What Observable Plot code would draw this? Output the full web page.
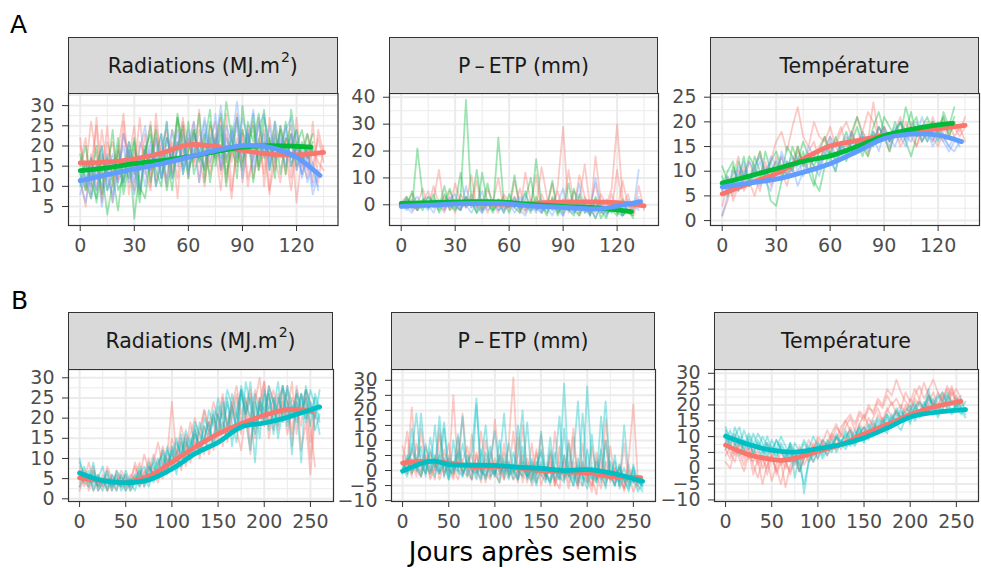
<!DOCTYPE html>
<html><head><meta charset="utf-8">
<script src="https://cdn.jsdelivr.net/npm/d3@7"></script>
<script src="https://cdn.jsdelivr.net/npm/@observablehq/plot@0.6"></script>
<style>
body{margin:0;background:#fff;}
#root{position:relative;width:981px;height:568px;overflow:hidden;font-family:"DejaVu Sans",sans-serif;background:#fff;}
.strip{position:absolute;background:#D9D9D9;border:1.2px solid #333333;box-sizing:border-box;display:flex;align-items:center;justify-content:center;font-size:20.5px;color:#1A1A1A;white-space:nowrap;}
.strip .sup{font-size:14px;position:relative;top:-9px;margin-left:1px;}
.panel{position:absolute;}
#over{position:absolute;left:0;top:0;pointer-events:none;}
</style></head><body><div id="root"></div>
<script>
// ---------- colours of the groups ----------
const COL = {red:"#F8766D", green:"#00BA38", blue:"#619CFF", cyan:"#00BFC4"};

// ---------- A : daily series sampled every 3 days (x = index*3) ----------
// Radiations A
const radA_red1 = [16,22,8,27,12,25,10,19,28,14,9,21,17,26,11,20,24,13,27,18,22,15,29,12,25,19,9,23,16,28,11,21,26,14,19,8,24,17,22,12,27,15,20,11,24,18];
const radA_red2 = [12,5,18,9,24,14,6,20,11,17,25,8,19,13,22,16,10,24,19,27,12,23,17,10,21,26,14,18,7,22,15,25,12,19,24,9,16,21,13,23,6,18,14,20,16,14];
const radA_red3 = [20,14,26,17,7,21,15,11,23,18,13,27,14,9,25,17,22,19,12,26,21,16,24,18,13,20,27,11,19,15,23,10,18,22,13,27,17,11,21,25,14,19,23,15,22,16];
const radA_red4 = [22,9,15,25,6,17,21,12,26,8,19,14,23,10,28,16,12,21,7,24,18,26,11,20,15,23,13,28,9,19,24,12,17,27,10,22,14,25,18,9,21,16,12,26,11,20];
const radA_green1 = [13,9,17,6,14,3,11,19,8,15,22,10,7,17,24,12,19,9,21,15,26,13,18,23,11,20,28,16,22,12,30,19,25,14,27,21,17,24,13,29,20,16,23,18];
const radA_green2 = [18,11,7,15,20,9,13,4,16,12,21,8,18,25,14,10,22,17,28,13,19,24,16,21,29,15,23,10,25,19,14,26,21,28,17,22,12,25,19,23,15,21,17,19];
const radA_green3 = [10,16,12,20,8,17,13,22,10,19,2,14,20,11,18,23,9,16,27,21,12,24,18,14,26,20,17,31,22,16,24,19,28,15,21,18,26,13,22,20,24,16,19,23];
const radA_green4 = [15,20,11,7,18,13,24,9,12,21,15,6,19,23,10,16,26,12,20,25,14,18,28,11,22,17,25,13,19,27,16,23,11,21,29,14,22,18,26,15,20,24,17,21];
const radA_blue1 = [11,6,14,9,17,12,8,15,20,11,16,9,19,14,22,12,17,24,15,20,13,23,18,26,16,21,30,19,24,17,27,22,19,25,28,15,21,18,24,27,14,19,11,16,9];
const radA_blue2 = [8,13,10,16,5,14,18,11,15,21,13,17,10,19,15,23,11,18,21,14,24,17,20,27,19,22,15,25,21,31,18,23,16,26,20,17,23,19,25,15,20,13,17,8,13];
const radA_blue3 = [14,10,17,12,20,9,16,13,23,17,11,19,25,14,18,12,22,16,24,13,21,26,18,15,23,20,25,17,22,27,19,24,14,21,18,25,16,22,20,17,24,12,18,14,10];
const radA_blue4 = [12,16,7,13,10,18,6,14,11,19,8,16,13,21,10,17,26,12,19,23,15,20,11,24,18,28,14,22,19,25,12,21,29,17,23,14,26,20,15,23,18,13,20,10,14];
// P - ETP A
const petA_red1 = [0,-1,2,-2,1,5,-1,0,3,-2,8,1,-1,4,0,-2,6,1,-1,3,-2,9,0,-3,2,-1,14,3,-2,7,29,-3,5,2,15,-1,-3,4,0,6,30,3,-3,1,-1,0];
const petA_red2 = [1,3,-2,0,6,-1,2,13,-2,1,-3,4,0,11,-1,2,-3,1,10,-2,0,3,-3,12,1,-2,4,-1,8,-3,2,0,-2,11,3,-4,18,1,-2,4,-3,9,0,-4,2,-1];
const petA_red3 = [-1,0,4,-2,2,-1,7,0,-3,5,1,-2,3,-1,9,-2,2,0,-3,4,1,-1,6,-2,0,11,-3,2,-1,5,-2,13,0,-4,3,-1,8,-3,2,-2,13,-1,4,-3,7,-2];
const petA_green1 = [0,2,-1,21,3,-1,1,-2,4,0,-2,3,39,1,-3,12,0,-2,25,1,-3,2,-1,5,-2,17,0,-3,2,-4,1,-2,6,-3,0,-4,3,-2,-5,1,-3,-4,-2,-5];
const petA_green2 = [1,-1,5,0,-2,3,1,-1,7,-2,0,12,-1,2,-3,0,8,-2,1,-3,4,-1,-3,2,10,-2,0,-4,3,-1,-3,8,-2,-4,0,-3,2,-5,-1,-3,1,-4,-2,-3];
const petA_green3 = [-1,3,0,-2,2,-1,4,-3,1,6,-1,-2,3,0,13,-2,1,-3,2,0,-1,11,-2,1,-3,3,-2,-1,9,-3,0,-2,-4,4,-3,-1,-5,0,-3,-2,-4,2,-3,-4];
const petA_blue1 = [-1,2,0,-2,1,3,-1,0,-2,2,4,-1,0,-3,1,5,-2,0,2,-3,1,-1,3,-2,0,-3,2,-1,-4,1,6,-2,-3,0,-1,-4,2,-3,-1,-2,0,-4,1,-2,13];
const petA_blue2 = [1,-1,-3,1,0,-2,2,1,-1,3,0,-2,7,-1,1,-3,0,2,-2,-1,1,-3,0,4,-2,-1,-3,1,-2,0,-4,2,-1,8,-3,-2,10,-1,-4,0,-2,-3,2,-1,3];
const petA_blue3 = [0,-2,1,3,-1,0,-3,2,0,-1,1,-2,3,0,-1,-3,2,1,-2,0,-1,3,-2,-4,1,0,-3,-1,2,-2,-4,0,-3,1,-2,-1,-5,0,-3,-2,1,-4,-1,0,-2];
// Température A
const tmpA_red1 = [1,4,9,13,6,8,11,14,9,12,16,18,14,19,23,17,15,20,17,16,19,15,18,20,17,15,18,16,24,17,19,16,18,15,17,20,18,16,19,17,15,18,20,17,19,16];
const tmpA_red2 = [6,9,4,7,11,8,5,9,12,7,10,13,9,11,14,12,10,13,15,17,14,16,19,15,17,21,18,22,20,17,19,16,18,21,17,19,15,18,20,16,19,21,17,20,18,21];
const tmpA_red3 = [3,7,5,10,8,12,9,6,11,8,13,10,7,12,15,11,14,16,12,15,17,13,16,14,18,15,17,13,16,19,17,14,18,16,20,17,15,19,17,21,18,16,20,19,17,19];
const tmpA_green1 = [9,5,11,8,13,7,10,14,9,4,3,8,12,10,15,11,13,8,6,11,14,12,16,13,18,21,17,15,19,22,18,16,20,17,23,19,21,16,18,20,17,22,19,23];
const tmpA_green2 = [11,8,6,12,9,7,13,10,8,12,14,11,9,15,12,16,13,11,14,17,13,10,15,18,14,16,13,17,15,19,17,14,18,20,16,13,17,19,21,18,16,20,18,21];
const tmpA_green3 = [7,10,12,6,9,13,11,8,14,10,12,9,15,13,11,14,10,7,12,15,13,17,14,12,16,19,15,13,18,16,21,19,17,20,18,22,17,19,16,20,18,21,17,20];
const tmpA_blue1 = [1,5,8,6,10,7,9,12,8,6,10,13,9,11,7,10,13,11,9,14,12,10,15,13,16,14,17,15,18,16,19,17,15,18,16,19,17,21,18,16,19,17,15,17,15];
const tmpA_blue2 = [6,9,7,11,8,12,10,7,9,13,11,8,12,10,13,9,12,14,11,13,16,12,15,17,14,16,18,15,17,14,18,16,19,17,15,18,20,16,18,15,17,16,14,16,16];
const tmpA_blue3 = [8,6,10,9,12,8,11,13,10,12,9,14,11,13,10,12,15,13,11,14,17,15,13,16,18,15,17,14,16,19,17,15,18,20,17,16,19,18,16,18,20,17,15,14,16];

// ---------- B : daily series sampled every 5 days (x = index*5) ----------
const radB_red1 = [8,3,6,2,5,3,7,4,2,6,3,5,8,4,6,10,5,8,12,7,11,9,14,8,13,17,10,15,19,12,18,22,14,20,25,16,23,27,18,24,29,15,22,26,19,28,13,24,21,27,18,8];
const radB_red2 = [4,7,2,5,3,6,2,4,6,3,5,2,4,7,3,8,6,4,9,6,13,8,11,16,9,14,12,18,11,16,21,13,19,24,17,12,21,26,15,23,19,28,24,17,25,21,29,16,26,23,10,22];
const radB_red3 = [2,5,9,4,6,3,5,2,7,4,6,3,9,5,11,7,9,14,8,11,24,10,15,12,19,13,17,22,16,20,14,25,18,23,20,27,22,11,24,30,20,26,17,23,28,19,25,22,18,27,24,20];
const radB_red4 = [6,4,3,7,2,4,8,5,3,4,2,6,5,3,7,4,8,6,5,10,8,12,7,13,10,16,14,11,17,21,16,19,15,22,26,19,24,14,21,25,18,23,27,20,24,16,22,26,12,19,6,21];
const radB_red5 = [3,6,4,8,3,5,2,6,4,7,5,3,6,9,5,7,11,8,13,9,15,11,18,13,16,20,15,22,18,24,20,26,17,23,28,21,25,19,27,22,29,18,25,21,27,24,16,28,22,25,14,23];
const radB_cyan1 = [9,6,3,7,4,2,5,3,6,2,4,3,5,7,4,8,6,9,11,7,13,10,8,14,12,16,11,15,19,13,21,17,24,19,14,26,21,29,18,24,22,27,16,25,21,28,23,19,26,20,27,23,16];
const radB_cyan2 = [5,8,4,6,3,5,2,6,4,3,7,4,2,6,5,3,7,10,6,12,9,14,11,15,10,17,13,18,15,22,20,16,25,13,22,27,19,12,24,20,26,17,22,29,19,24,11,27,21,25,18,26,22];
const radB_cyan3 = [7,4,6,2,5,8,3,5,2,6,3,5,4,8,3,6,9,5,8,13,7,11,16,9,13,18,12,20,17,14,23,19,15,26,21,17,29,23,9,25,20,28,24,15,22,27,21,24,9,28,23,20,27];
const radB_cyan4 = [3,6,5,9,2,4,6,3,7,5,2,4,6,3,5,9,4,7,10,8,12,6,14,10,15,11,19,14,13,21,16,24,18,22,17,27,21,25,16,23,19,26,20,24,28,18,23,21,26,19,24,17,21];
const radB_cyan5 = [10,5,7,3,6,4,7,2,5,3,6,2,4,6,8,5,10,7,12,9,11,15,10,17,13,19,16,14,22,18,25,20,27,23,18,28,24,20,26,15,27,22,25,18,28,24,20,26,23,27,21,25,19];
const petB_red1 = [8,2,21,0,-2,5,1,-3,12,3,-1,25,0,19,2,-3,6,-1,4,-2,17,1,-3,9,31,-2,5,-4,3,-1,12,-3,2,-5,8,-2,0,14,-4,3,-1,-5,6,-2,10,-4,1,-3,-6,4,22,-3];
const petB_red2 = [2,13,-1,4,0,9,-2,3,-1,7,1,-3,11,-1,2,5,-2,13,0,-3,4,-1,9,-2,1,-4,15,0,-3,6,-2,1,-5,13,-1,3,-4,0,-6,9,-2,-5,1,-3,17,-1,-4,2,-7,0,-3,-5];
const petB_red3 = [0,4,-2,9,3,-1,6,0,14,-2,5,1,-3,3,8,-1,2,-4,10,1,-2,5,-3,2,-1,11,-4,2,-2,7,-5,0,3,-3,-6,5,-2,11,-4,1,-3,-7,4,-2,-5,8,-3,-1,-6,2,-4,-2];
const petB_red4 = [3,-1,7,2,-2,4,-3,1,5,-1,2,-2,7,3,-1,-3,5,0,-2,3,-1,-4,6,1,-3,0,-2,4,-5,-1,2,-3,5,-4,-2,1,-6,3,-3,-5,0,-2,-8,4,-3,-1,-5,1,-4,-2,-7,-3];
const petB_red5 = [5,0,3,-2,14,1,-1,4,-3,2,9,-1,3,0,-2,12,-1,2,-4,6,0,-2,3,-1,13,-3,1,-2,9,-4,0,-2,6,-5,1,-3,10,-2,-5,2,-4,8,-1,-6,3,-3,1,-5,9,-4,-1,-6];
const petB_cyan1 = [-1,3,6,19,2,-1,7,1,18,-2,4,0,12,-1,3,6,24,-2,1,8,-1,3,19,-2,0,5,20,-3,2,-1,7,-2,11,-3,0,29,-2,4,23,-3,28,1,-4,6,23,-2,3,-5,15,-1,-4,-2,-6];
const petB_cyan2 = [1,-2,4,0,19,2,-1,5,0,14,-2,3,-1,9,1,-3,22,0,-2,4,13,-1,2,-3,6,0,-2,16,-3,3,-1,-4,7,0,-3,14,-2,1,-5,19,-1,-3,3,-4,10,-2,-5,1,-3,-6,2,-4,-5];
const petB_cyan3 = [0,5,-1,3,8,-2,11,2,-1,4,-3,1,6,-2,3,0,-1,7,-3,2,-1,5,-2,9,0,-3,3,-1,-4,2,6,-2,-4,1,-3,5,-1,-5,2,-2,-4,12,-3,0,-6,3,-2,-4,1,-5,-3,-7,-4];
const petB_cyan4 = [2,-1,9,1,-2,3,0,15,-1,2,-3,10,0,-2,5,1,-3,3,15,-2,0,-4,4,-1,2,-3,8,-2,0,-5,3,-1,-4,2,18,-3,0,-5,4,-2,-6,1,-3,7,-4,-1,-5,2,-3,-7,0,-4,-5];
const petB_cyan5 = [3,0,14,2,-1,8,3,-2,5,16,0,-1,4,18,-2,2,0,-3,6,1,-2,10,-1,3,-3,15,1,-2,4,-4,13,-1,-3,6,-2,-4,9,-3,1,-5,7,-2,-4,18,-1,-3,5,-6,-2,-4,1,-5,-7];
const tmpB_red1 = [4,7,10,6,3,8,5,1,4,-2,3,0,-5,2,-1,4,1,6,3,8,5,9,7,11,14,10,13,16,12,17,15,19,18,22,20,25,23,28,24,21,19,23,26,22,25,28,24,21,26,23,25,22];
const tmpB_red2 = [9,5,2,8,4,7,1,-3,3,0,5,-2,2,-6,1,4,-1,3,6,2,5,8,4,7,10,6,9,12,8,11,13,10,14,12,16,13,15,18,16,20,17,19,22,18,21,24,20,23,21,25,22,20];
const tmpB_red3 = [2,0,6,3,-1,4,2,6,0,3,-4,1,5,2,-2,3,6,1,4,7,3,8,6,10,7,11,9,13,10,14,12,16,13,17,15,19,16,18,20,17,22,19,21,18,23,20,17,22,19,24,21,23];
const tmpB_red4 = [10,7,4,9,6,3,7,2,5,8,3,6,1,4,7,3,-1,5,2,6,9,5,8,11,9,13,15,12,10,14,17,13,16,19,15,18,21,17,16,19,18,22,20,17,23,21,19,24,22,26,20,21];
const tmpB_red5 = [6,3,8,5,1,6,-2,3,-5,1,4,-1,3,0,5,2,7,4,9,6,10,8,12,9,13,11,15,17,14,18,16,20,17,21,19,23,20,22,19,24,21,25,22,27,23,20,24,22,25,21,23,20];
const tmpB_cyan1 = [13,9,11,7,12,8,5,9,6,3,7,4,8,5,2,6,1,-5,2,4,7,3,6,9,5,8,11,7,10,13,9,12,15,11,14,17,13,16,19,15,18,21,17,20,23,19,22,24,20,18,21,19,17];
const tmpB_cyan2 = [8,12,7,10,6,9,4,8,5,10,6,3,7,4,8,1,5,-8,2,6,3,7,4,8,6,9,7,11,8,12,10,9,13,11,15,13,17,14,12,16,19,15,18,17,20,22,18,21,19,17,20,18,16];
const tmpB_cyan3 = [11,7,13,9,5,10,7,11,8,4,9,6,10,7,3,8,5,9,6,10,7,4,8,6,10,8,12,9,7,11,13,10,12,15,13,11,16,14,18,16,15,19,17,21,18,20,16,19,22,18,20,17,19];
const tmpB_cyan4 = [6,10,8,4,9,6,11,7,3,8,5,9,6,2,7,-3,4,8,5,2,6,9,7,5,10,8,6,9,12,10,8,13,11,14,12,16,13,18,15,17,14,20,16,19,25,17,20,18,23,21,19,22,18];
const tmpB_cyan5 = [12,8,10,13,7,11,8,6,10,7,5,9,6,3,8,5,-1,3,7,4,8,5,9,7,11,8,10,12,9,13,11,14,12,16,14,17,15,19,16,18,20,17,21,19,22,20,23,21,24,20,22,19,21];

// ---------- smooth (loess) curves ----------
const smRadA_red_x = [0,15,30,45,60,75,90,105,120,135];
const smRadA_red_y = [15.8,16.0,16.8,18.2,20.3,19.9,18.9,18.0,17.8,18.4];
const smRadA_green_x = [0,15,30,45,60,75,90,105,120,128];
const smRadA_green_y = [13.9,14.6,15.6,16.4,17.3,18.6,19.7,20.1,19.9,19.7];
const smRadA_blue_x = [0,15,30,45,60,75,90,100,110,120,133];
const smRadA_blue_y = [11.4,12.9,14.3,15.6,17.2,18.9,20.1,20.0,19.1,17.2,12.7];
const smPetA_red_x = [0,30,60,90,120,135];
const smPetA_red_y = [0.0,0.6,0.3,1.0,0.8,-0.4];
const smPetA_green_x = [0,20,40,55,70,90,110,128];
const smPetA_green_y = [0.5,0.9,1.2,1.1,0.2,-0.6,-1.2,-2.5];
const smPetA_blue_x = [0,20,40,55,70,90,110,120,133];
const smPetA_blue_y = [-0.6,0.0,0.5,0.5,-0.3,-1.0,-1.5,-0.5,1.2];
const smTmpA_red_x = [0,15,30,45,60,75,90,105,120,135];
const smTmpA_red_y = [5.4,7.5,9.5,12.5,15.1,16.2,17.2,18.0,18.6,19.3];
const smTmpA_green_x = [0,15,30,45,60,75,90,105,120,128];
const smTmpA_green_y = [7.6,9.0,10.5,12.0,13.1,15.0,17.2,18.5,19.4,19.7];
const smTmpA_blue_x = [0,15,30,45,60,75,90,105,120,133];
const smTmpA_blue_y = [6.8,7.6,8.4,9.8,11.5,14.0,16.6,17.5,17.3,16.0];
const smRadB_red_x = [0,25,50,75,100,125,150,175,200,225,252];
const smRadB_red_y = [5.2,4.5,4.1,5.6,9.1,12.8,16.1,18.6,20.7,22.1,21.7];
const smRadB_cyan_x = [0,25,50,75,100,125,150,175,200,225,260];
const smRadB_cyan_y = [6.4,4.5,4.0,4.7,7.4,11.2,14.0,17.8,18.8,20.2,22.8];
const smPetB_red_x = [0,25,50,75,100,125,150,175,200,225,258];
const smPetB_red_y = [2.5,3.1,2.5,1.4,1.4,0.9,0.0,-0.4,-0.8,-1.9,-2.4];
const smPetB_cyan_x = [0,25,35,50,75,100,125,150,175,200,225,250,260];
const smPetB_cyan_y = [-0.2,2.8,3.1,2.0,1.8,1.7,1.1,0.7,0.0,0.3,-0.8,-2.7,-3.6];
const smTmpB_red_x = [0,25,50,60,75,100,125,150,175,200,225,255];
const smTmpB_red_y = [7.3,4.3,2.8,2.5,3.1,5.4,7.5,10.8,13.8,16.9,19.3,21.1];
const smTmpB_cyan_x = [0,25,50,75,100,125,150,175,200,225,260];
const smTmpB_cyan_y = [10.1,7.5,5.7,5.1,6.2,7.5,9.6,12.7,16.2,17.6,18.5];

// ---------- tick values ----------
const xTicksA = [0,30,60,90,120], xMinorA = [15,45,75,105,135];
const xTicksB = [0,50,100,150,200,250], xMinorB = [25,75,125,175,225];
const yTicksRadA = [5,10,15,20,25,30], yMinorRadA = [2.5,7.5,12.5,17.5,22.5,27.5,32.5];
const yTicksPetA = [0,10,20,30,40], yMinorPetA = [-5,5,15,25,35];
const yTicksTmpA = [0,5,10,15,20,25], yMinorTmpA = [2.5,7.5,12.5,17.5,22.5];
const yTicksRadB = [0,5,10,15,20,25,30], yMinorRadB = [2.5,7.5,12.5,17.5,22.5,27.5];
const yTicksPetB = [-10,-5,0,5,10,15,20,25,30], yMinorPetB = [-7.5,-2.5,2.5,7.5,12.5,17.5,22.5,27.5,32.5];
const yTicksTmpB = [-10,-5,0,5,10,15,20,25,30], yMinorTmpB = [-7.5,-2.5,2.5,7.5,12.5,17.5,22.5,27.5];

const stripRad = 'Radiations (MJ.m<span class="sup">2</span>)';
const stripPet = 'P\u2009\u2013\u2009ETP (mm)';
const stripTmp = 'Température';

const panels = [
 {left:68,right:337.5,top:93,bottom:225,stripTop:37,title:stripRad,xd:[-6.5,143],xt:xTicksA,xm:xMinorA,yd:[0.3,33],yt:yTicksRadA,ym:yMinorRadA,step:3,
  noise:[["red",[radA_red1,radA_red2,radA_red3,radA_red4]],["green",[radA_green1,radA_green2,radA_green3,radA_green4]],["blue",[radA_blue1,radA_blue2,radA_blue3,radA_blue4]]],
  smooth:[["red",smRadA_red_x,smRadA_red_y],["green",smRadA_green_x,smRadA_green_y],["blue",smRadA_blue_x,smRadA_blue_y]]},
 {left:389,right:658,top:93,bottom:225,stripTop:37,title:stripPet,xd:[-6.5,143],xt:xTicksA,xm:xMinorA,yd:[-7.7,41.4],yt:yTicksPetA,ym:yMinorPetA,step:3,
  noise:[["red",[petA_red1,petA_red2,petA_red3]],["green",[petA_green1,petA_green2,petA_green3]],["blue",[petA_blue1,petA_blue2,petA_blue3]]],
  smooth:[["red",smPetA_red_x,smPetA_red_y],["green",smPetA_green_x,smPetA_green_y],["blue",smPetA_blue_x,smPetA_blue_y]]},
 {left:710,right:979,top:93,bottom:225,stripTop:37,title:stripTmp,xd:[-6.5,143],xt:xTicksA,xm:xMinorA,yd:[-1,25.75],yt:yTicksTmpA,ym:yMinorTmpA,step:3,
  noise:[["red",[tmpA_red1,tmpA_red2,tmpA_red3]],["green",[tmpA_green1,tmpA_green2,tmpA_green3]],["blue",[tmpA_blue1,tmpA_blue2,tmpA_blue3]]],
  smooth:[["red",smTmpA_red_x,smTmpA_red_y],["green",smTmpA_green_x,smTmpA_green_y],["blue",smTmpA_blue_x,smTmpA_blue_y]]},
 {left:68,right:333,top:369,bottom:501,stripTop:312,title:stripRad,xd:[-12,275],xt:xTicksB,xm:xMinorB,yd:[-0.67,32.06],yt:yTicksRadB,ym:yMinorRadB,step:5,
  noise:[["red",[radB_red1,radB_red2,radB_red3,radB_red4,radB_red5]],["cyan",[radB_cyan1,radB_cyan2,radB_cyan3,radB_cyan4,radB_cyan5]]],
  smooth:[["red",smRadB_red_x,smRadB_red_y],["cyan",smRadB_cyan_x,smRadB_cyan_y]]},
 {left:391,right:655,top:369,bottom:501,stripTop:312,title:stripPet,xd:[-12,274],xt:xTicksB,xm:xMinorB,yd:[-10.3,33.6],yt:yTicksPetB,ym:yMinorPetB,step:5,
  noise:[["red",[petB_red1,petB_red2,petB_red3,petB_red4,petB_red5]],["cyan",[petB_cyan1,petB_cyan2,petB_cyan3,petB_cyan4,petB_cyan5]]],
  smooth:[["red",smPetB_red_x,smPetB_red_y],["cyan",smPetB_cyan_x,smPetB_cyan_y]]},
 {left:714,right:978,top:369,bottom:501,stripTop:312,title:stripTmp,xd:[-12,274],xt:xTicksB,xm:xMinorB,yd:[-10.5,31.2],yt:yTicksTmpB,ym:yMinorTmpB,step:5,
  noise:[["red",[tmpB_red1,tmpB_red2,tmpB_red3,tmpB_red4,tmpB_red5]],["cyan",[tmpB_cyan1,tmpB_cyan2,tmpB_cyan3,tmpB_cyan4,tmpB_cyan5]]],
  smooth:[["red",smTmpB_red_x,smTmpB_red_y],["cyan",smTmpB_cyan_x,smTmpB_cyan_y]]}
];

const root = document.getElementById("root");
const FONT = "DejaVu Sans, sans-serif";

for (const p of panels) {
  const ML = 62, MR = 2, MT = 1, MB = 44;
  const w = p.right - p.left, h = p.bottom - p.top;
  const step = p.step;
  const marks = [
    Plot.ruleX(p.xm, {stroke:"#EBEBEB", strokeWidth:1}),
    Plot.ruleY(p.ym, {stroke:"#EBEBEB", strokeWidth:1}),
    Plot.ruleX(p.xt, {stroke:"#EBEBEB", strokeWidth:2}),
    Plot.ruleY(p.yt, {stroke:"#EBEBEB", strokeWidth:2})
  ];
  for (const [c, list] of p.noise) {
    for (const arr of list) {
      marks.push(Plot.line(arr, {x:(d,i)=>i*step, y:d=>d, stroke:COL[c], strokeOpacity:0.38, strokeWidth:1.8, clip:true}));
    }
  }
  for (const [c, xs, ys] of p.smooth) {
    const data = xs.map((x,i)=>({x, y:ys[i]}));
    marks.push(Plot.line(data, {x:"x", y:"y", stroke:COL[c], strokeWidth:4.8, curve:"catmull-rom", clip:true}));
  }
  marks.push(Plot.frame({stroke:"#333333", strokeWidth:1.2}));
  marks.push(Plot.axisX({ticks:p.xt, tickSize:6, tickPadding:7, stroke:"#333333", fill:"#4D4D4D", fontSize:19, label:null}));
  marks.push(Plot.axisY({ticks:p.yt, tickSize:6, tickPadding:8, stroke:"#333333", fill:"#4D4D4D", fontSize:19, label:null}));

  const svg = Plot.plot({
    width: ML + w + MR, height: MT + h + MB,
    marginLeft: ML, marginRight: MR, marginTop: MT, marginBottom: MB,
    x: {domain: p.xd}, y: {domain: p.yd},
    style: {fontFamily: FONT, fontSize: "19px", background: "transparent", overflow: "visible"},
    marks
  });
  svg.classList.add("panel");
  svg.style.left = (p.left - ML) + "px";
  svg.style.top = (p.top - MT) + "px";
  root.appendChild(svg);

  const s = document.createElement("div");
  s.className = "strip";
  s.style.left = p.left + "px";
  s.style.top = p.stripTop + "px";
  s.style.width = w + "px";
  s.style.height = (p.top - p.stripTop + 1) + "px";
  s.innerHTML = p.title;
  root.appendChild(s);
}

// overlay text: panel tags and x-axis title
const ns = "http://www.w3.org/2000/svg";
const over = document.createElementNS(ns, "svg");
over.setAttribute("id", "over");
over.setAttribute("width", 981);
over.setAttribute("height", 568);
const texts = [
  {t:"A", x:10, y:33, size:25, anchor:"start"},
  {t:"B", x:11, y:309, size:25, anchor:"start"},
  {t:"Jours après semis", x:523, y:561, size:26, anchor:"middle"}
];
for (const o of texts) {
  const el = document.createElementNS(ns, "text");
  el.setAttribute("x", o.x); el.setAttribute("y", o.y);
  el.setAttribute("font-size", o.size);
  el.setAttribute("font-family", FONT);
  el.setAttribute("text-anchor", o.anchor);
  el.setAttribute("fill", "#000");
  el.textContent = o.t;
  over.appendChild(el);
}
root.appendChild(over);
</script></body></html>
